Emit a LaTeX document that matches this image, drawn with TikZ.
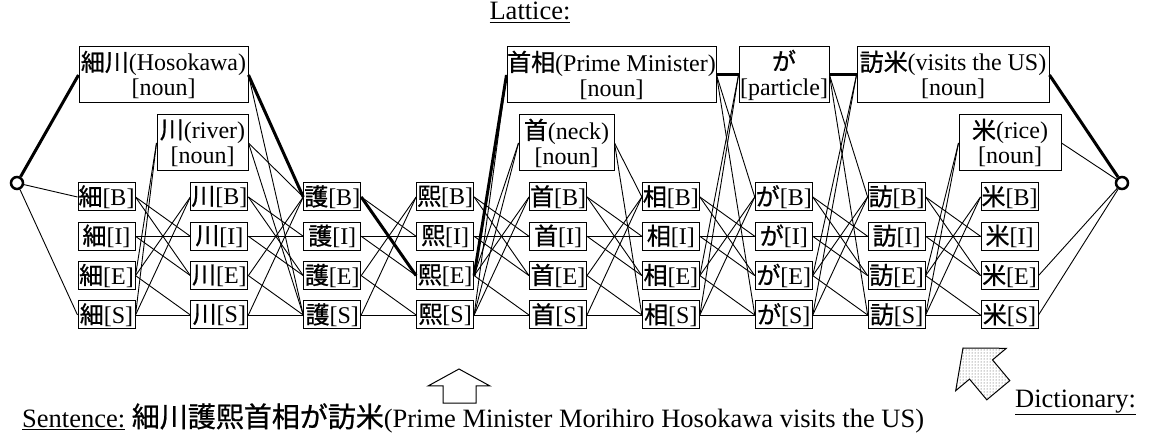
\documentclass[tikz,border=0pt]{standalone}
\usepackage{fontspec}
\setmainfont{Liberation Serif}
\newfontfamily\jpfont[FakeBold=0.8]{Noto Sans CJK JP}
\newcommand\jp{\jpfont}
\usetikzlibrary{patterns}
\begin{document}
\begin{tikzpicture}[x=1pt,y=-1pt,
  tag/.style={draw,line width=1pt,fill=white,inner sep=0pt,minimum width=57pt,minimum height=28pt,font=\fontsize{24}{25}\selectfont},
  word/.style={draw,line width=1pt,fill=white,inner sep=0pt,minimum height=56pt,align=center,font=\fontsize{24}{25}\selectfont},
  edge/.style={line width=0.9pt},
  best/.style={line width=3pt},
  term/.style={circle,draw,line width=2.5pt,fill=white,inner sep=0pt,minimum size=12pt},
  label/.style={inner sep=0pt,font=\fontsize{26.5}{28}\selectfont}]
\useasboundingbox (0,0) rectangle (1151,443);

% character/tag nodes
\foreach \c [count=\i] in {細,川,護,熙,首,相,が,訪,米} {
  \foreach \r/\yy in {B/197,I/236.3,E/275.6,S/315}
    \node[tag] (t\i\r) at ({106.5+112.875*(\i-1)},\yy) {{\jp\c}[\r]};
}

% word nodes
\node[word,minimum width=169pt] (w1) at (163.5,75) {{\jp 細川}(Hosokawa)\\{[noun]}};
\node[word,minimum width=91pt]  (w2) at (202.5,143) {{\jp 川}(river)\\{[noun]}};
\node[word,minimum width=209pt] (w3) at (611.5,75) {{\jp 首相}(Prime Minister)\\{[noun]}};
\node[word,minimum width=95pt]  (w4) at (566.5,143) {{\jp 首}(neck)\\{[noun]}};
\node[word,minimum width=90pt]  (w5) at (784,75) {{\jp が}\\{[particle]}};
\node[word,minimum width=192pt] (w6) at (953,75) {{\jp 訪米}(visits the US)\\{[noun]}};
\node[word,minimum width=102pt] (w7) at (1010,143) {{\jp 米}(rice)\\{[noun]}};

% terminals
\node[term] (s) at (17,183) {};
\node[term] (e) at (1122,183) {};

% tag-to-tag edges
\foreach \i in {1,...,8} {
  \pgfmathtruncatemacro\j{\i+1}
  \foreach \a/\b in {B/I,B/E,I/I,I/E,E/B,E/S,S/B,S/S}
    \draw[edge] (t\i\a.east) -- (t\j\b.west);
}

% edges involving words and terminals
\draw[edge] (s) -- (t1B.west);
\draw[edge] (s) -- (t1S.west);
\draw[edge] (t1E.east) -- (w2.west);
\draw[edge] (t1S.east) -- (w2.west);
\draw[edge] (w1.east) -- (t3S.west);
\draw[edge] (w2.east) -- (t3B.west);
\draw[edge] (w2.east) -- (t3S.west);
\draw[edge] (t4E.east) -- (w4.west);
\draw[edge] (t4S.east) -- (w3.west);
\draw[edge] (t4S.east) -- (w4.west);
\draw[edge] (w4.east) -- (t6B.west);
\draw[edge] (w4.east) -- (t6S.west);
\draw[edge] (w3.east) -- (t7B.west);
\draw[edge] (w3.east) -- (t7S.west);
\draw[edge] (t6E.east) -- (w5.west);
\draw[edge] (t6S.east) -- (w5.west);
\draw[edge] (w5.east) -- (t8B.west);
\draw[edge] (w5.east) -- (t8S.west);
\draw[edge] (t7E.east) -- (w6.west);
\draw[edge] (t7S.east) -- (w6.west);
\draw[edge] (t8E.east) -- (w7.west);
\draw[edge] (t8S.east) -- (w7.west);
\draw[edge] (w7.east) -- (e);
\draw[edge] (t9E.east) -- (e);
\draw[edge] (t9S.east) -- (e);

% best path
\draw[best] (s) -- (w1.west);
\draw[best] (w1.east) -- (t3B.west);
\draw[best] (t3B.east) -- (t4E.west);
\draw[best] (t4E.east) -- (w3.west);
\draw[best] (w3.east) -- (w5.west);
\draw[best] (w5.east) -- (w6.west);
\draw[best] (w6.east) -- (e);

% labels
\node[label,anchor=base] (lat) at (530,20) {\underline{Lattice:}};
\node[label,anchor=base west] (sent) at (22,427) {\underline{Sentence:} {\jp\fontsize{28}{28}\selectfont 細川護熙首相が訪米}(Prime Minister Morihiro Hosokawa visits the US)};
\node[label,anchor=base west] (dict) at (1015,407) {\underline{Dictionary:}};

% up arrow (hollow)
\draw[line width=1pt] (459,369) -- (490,386) -- (476,386) -- (476,403) -- (443,403) -- (443,386) -- (428,386) -- cycle;

% dotted arrow pointing to the lattice
\draw[line width=1pt,pattern=dots,pattern color=black!75]
  (963,348) -- (1006.3,348.3) -- (992.5,359.9) -- (1009.8,380.6) -- (986.8,399.8) -- (969.5,379.1) -- (955.7,390.7) -- cycle;
\end{tikzpicture}
\end{document}
